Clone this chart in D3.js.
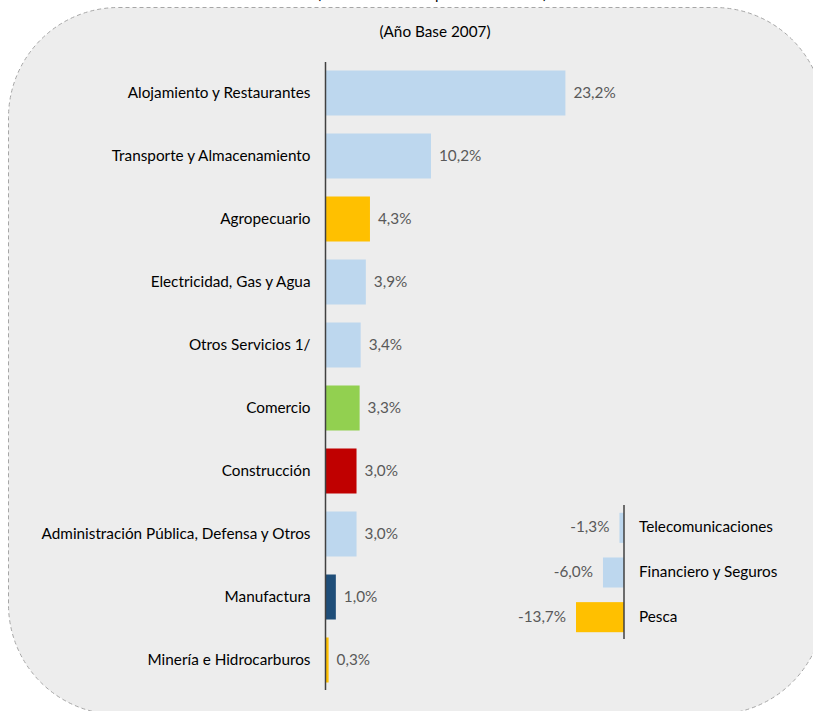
<!DOCTYPE html>
<html>
<head>
<meta charset="utf-8">
<script src="https://cdn.jsdelivr.net/npm/d3@7"></script>
<style>
  html, body { margin: 0; padding: 0; background: #ffffff; }
  svg { display: block; }
  text { font-family: "Lato", "Liberation Sans", sans-serif; }
</style>
</head>
<body>
<svg id="chart" width="813" height="711"></svg>
<script>
// ---- data ----
const titleText = "(Tasa de variación porcentual anual)";
const subtitleText = "(Año Base 2007)";

const posCategories = [
  "Alojamiento y Restaurantes",
  "Transporte y Almacenamiento",
  "Agropecuario",
  "Electricidad, Gas y Agua",
  "Otros Servicios 1/",
  "Comercio",
  "Construcción",
  "Administración Pública, Defensa y Otros",
  "Manufactura",
  "Minería e Hidrocarburos"
];
const posValues = [23.2, 10.2, 4.3, 3.9, 3.4, 3.3, 3.0, 3.0, 1.0, 0.3];
const posLabels = ["23,2%", "10,2%", "4,3%", "3,9%", "3,4%", "3,3%", "3,0%", "3,0%", "1,0%", "0,3%"];
const posColors = ["#BDD7EE", "#BDD7EE", "#FFC000", "#BDD7EE", "#BDD7EE", "#92D050", "#C00000", "#BDD7EE", "#1F4E79", "#FFC000"];

const negCategories = ["Telecomunicaciones", "Financiero y Seguros", "Pesca"];
const negValues = [-1.3, -6.0, -13.7];
const negLabels = ["-1,3%", "-6,0%", "-13,7%"];
const negColors = ["#BDD7EE", "#BDD7EE", "#FFC000"];

// ---- drawing ----
const FS = 15.3;
const DY = "0.3em";
const svg = d3.select("#chart");

// background rounded panel
svg.append("rect")
  .attr("x", 8.5).attr("y", 7.5)
  .attr("width", 816).attr("height", 707)
  .attr("rx", 110).attr("ry", 110)
  .attr("fill", "#EDEDED")
  .attr("stroke", "#A6A6A6")
  .attr("stroke-width", 1)
  .attr("stroke-dasharray", "4,3");

// title, cut off by the top edge as in the reference
svg.append("text")
  .attr("x", 432).attr("y", -1.5)
  .attr("text-anchor", "middle")
  .attr("font-size", 15)
  .attr("textLength", 230)
  .attr("lengthAdjust", "spacing")
  .attr("fill", "#000")
  .text(titleText);

svg.append("text")
  .attr("x", 435).attr("y", 37)
  .attr("text-anchor", "middle")
  .attr("font-size", FS)
  .attr("fill", "#000")
  .text(subtitleText);

// ---- main (positive) chart ----
const y = d3.scaleBand()
  .domain(posCategories)
  .range([61.5, 691.5])
  .paddingInner(18 / 63)
  .paddingOuter(9 / 63);

const x = d3.scaleLinear().domain([0, 25]).range([325.5, 325.5 + 258.5]);

const main = svg.append("g");

main.selectAll("rect.bar")
  .data(posCategories)
  .join("rect")
  .attr("class", "bar")
  .attr("x", x(0))
  .attr("y", d => y(d))
  .attr("width", (d, i) => x(posValues[i]) - x(0))
  .attr("height", y.bandwidth())
  .attr("fill", (d, i) => posColors[i]);

main.selectAll("text.cat")
  .data(posCategories)
  .join("text")
  .attr("class", "cat")
  .attr("x", x(0) - 15)
  .attr("y", d => y(d) + y.bandwidth() / 2)
  .attr("dy", DY)
  .attr("text-anchor", "end")
  .attr("font-size", FS)
  .attr("fill", "#000")
  .text(d => d);

main.selectAll("text.val")
  .data(posCategories)
  .join("text")
  .attr("class", "val")
  .attr("x", (d, i) => x(posValues[i]) + 8)
  .attr("y", d => y(d) + y.bandwidth() / 2)
  .attr("dy", DY)
  .attr("text-anchor", "start")
  .attr("font-size", FS)
  .attr("fill", "#595959")
  .text((d, i) => posLabels[i]);

main.append("line")
  .attr("x1", x(0)).attr("x2", x(0))
  .attr("y1", 62).attr("y2", 690)
  .attr("stroke", "#404040")
  .attr("stroke-width", 1.5);

// ---- inset (negative) chart ----
const y2 = d3.scaleBand()
  .domain(negCategories)
  .range([505.5, 639.5])
  .paddingInner(0.327)
  .paddingOuter(0.1635);

const x2 = d3.scaleLinear().domain([-13.7, 0]).range([576, 624]);

const inset = svg.append("g");

inset.selectAll("rect.bar")
  .data(negCategories)
  .join("rect")
  .attr("class", "bar")
  .attr("x", (d, i) => x2(negValues[i]))
  .attr("y", d => y2(d))
  .attr("width", (d, i) => x2(0) - x2(negValues[i]))
  .attr("height", y2.bandwidth())
  .attr("fill", (d, i) => negColors[i]);

inset.selectAll("text.cat")
  .data(negCategories)
  .join("text")
  .attr("class", "cat")
  .attr("x", x2(0) + 15)
  .attr("y", d => y2(d) + y2.bandwidth() / 2)
  .attr("dy", DY)
  .attr("text-anchor", "start")
  .attr("font-size", FS)
  .attr("fill", "#000")
  .text(d => d);

inset.selectAll("text.val")
  .data(negCategories)
  .join("text")
  .attr("class", "val")
  .attr("x", (d, i) => x2(negValues[i]) - 10)
  .attr("y", d => y2(d) + y2.bandwidth() / 2)
  .attr("dy", DY)
  .attr("text-anchor", "end")
  .attr("font-size", FS)
  .attr("fill", "#595959")
  .text((d, i) => negLabels[i]);

inset.append("line")
  .attr("x1", x2(0)).attr("x2", x2(0))
  .attr("y1", 505).attr("y2", 639)
  .attr("stroke", "#404040")
  .attr("stroke-width", 1.5);
</script>
</body>
</html>
